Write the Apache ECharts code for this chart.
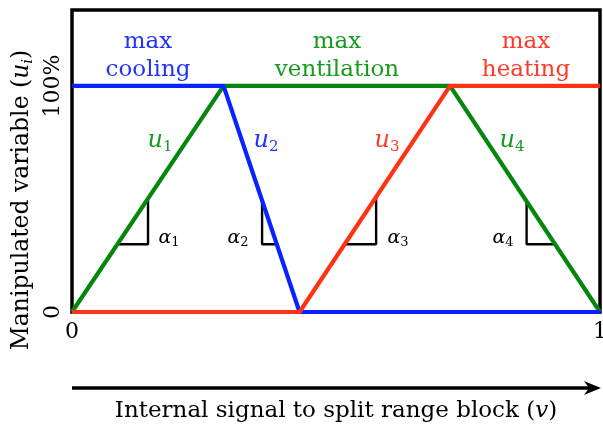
<!DOCTYPE html>
<html>
<head>
<meta charset="utf-8">
<script src="https://cdn.jsdelivr.net/npm/echarts@6/dist/echarts.min.js"></script>
<style>
  html, body { margin: 0; padding: 0; background: #fff; }
  #chart { width: 603px; height: 426px; }
</style>
</head>
<body>
<div id="chart"></div>
<script>
// Split-range control: internal signal v mapped onto three actuators.
const signal      = [0, 0.287, 0.431, 0.716, 1];
const ventilation = [0, 1, 1, 1, 0];   // u1 rising, u4 falling
const cooling     = [1, 1, 0, 0, 0];   // u2
const heating     = [0, 0, 0, 1, 1];   // u3

// Slope markers: where the vertical leg sits and the level of the base.
const slopeLegX   = [0.144, 0.360, 0.576, 0.861];
const slopeBase   = 0.3;
const slopeCurve  = ['ventilation', 'cooling', 'heating', 'ventilation'];
const slopeSeg    = [0, 1, 2, 3];  // segment of the curve each marker belongs to

const xTickLabels = { 0: '0', 1: '1' };
const yTickLabels = { 0: '0', 1: '100%' };

const curves = { ventilation, cooling, heating };

function pairs(ys) { return signal.map((x, i) => [x, ys[i]]); }

function valueAt(ys, x) {
  for (let i = 0; i < signal.length - 1; i++) {
    const x0 = signal[i], x1 = signal[i + 1];
    if (x >= x0 && x <= x1) {
      const t = (x - x0) / (x1 - x0);
      return ys[i] + t * (ys[i + 1] - ys[i]);
    }
  }
  return ys[ys.length - 1];
}
function signalAt(ys, y, seg) {
  const x0 = signal[seg], x1 = signal[seg + 1];
  const y0 = ys[seg], y1 = ys[seg + 1];
  return x0 + (y - y0) / (y1 - y0) * (x1 - x0);
}

const triangleSeries = slopeLegX.map((lx, k) => {
  const ys = curves[slopeCurve[k]];
  const baseX = signalAt(ys, slopeBase, slopeSeg[k]);
  return {
    type: 'line',
    data: [[baseX, slopeBase], [lx, slopeBase], [lx, valueAt(ys, lx)]],
    symbol: 'none',
    lineStyle: { color: '#000', width: 2.4 },
    z: 1,
    silent: true,
    animation: false
  };
});

const BLUE = '#0a22ff', GREEN = '#04870c', RED = '#ff3216';
const TBLUE = '#2233f5', TGREEN = '#179a1e', TRED = '#ff3a26';
const FONT = 'DejaVu Serif';

const chart = echarts.init(document.getElementById('chart'), null, { renderer: 'canvas' });

function mathText(x, y, sym, sub, color, size, subSize, italic) {
  return {
    type: 'text', x, y, silent: true,
    style: {
      text: '{m|' + sym + '}{s|' + sub + '}',
      align: 'center', verticalAlign: 'middle',
      rich: {
        m: { fontFamily: FONT, fontStyle: italic ? 'italic' : 'normal', fontSize: size, fill: color, lineHeight: size + 4 },
        s: { fontFamily: FONT, fontSize: subSize, fill: color, lineHeight: subSize, verticalAlign: 'bottom' }
      }
    }
  };
}
function plainText(x, y, text, color, size, lh) {
  return {
    type: 'text', x, y, silent: true,
    style: { text, fontFamily: FONT, fontSize: size, fill: color, align: 'center', verticalAlign: 'middle', lineHeight: lh }
  };
}

chart.setOption({
  animation: false,
  backgroundColor: '#fff',
  grid: { left: 72, right: 3, top: 10, bottom: 114, outerBoundsMode: 'none', containLabel: false,
          show: true, borderColor: '#000', borderWidth: 3.5, backgroundColor: 'transparent' },
  xAxis: {
    type: 'value', min: 0, max: 1, interval: 1,
    axisLine: { show: false }, axisTick: { show: false }, splitLine: { show: false },
    axisLabel: { color: '#000', fontFamily: FONT, fontSize: 22, margin: 9, formatter: v => xTickLabels[v] ?? '' }
  },
  yAxis: {
    type: 'value', min: 0, max: 1.336, interval: 1,
    axisLine: { show: false }, axisTick: { show: false }, splitLine: { show: false },
    axisLabel: { color: '#000', fontFamily: FONT, fontSize: 22, margin: 8, rotate: 90, showMaxLabel: false,
                 formatter: v => yTickLabels[v] ?? '' }
  },
  series: [
    ...triangleSeries,
    { type: 'line', name: 'ventilation', data: pairs(ventilation), symbol: 'none', lineStyle: { color: GREEN, width: 4.2 }, z: 3 },
    { type: 'line', name: 'cooling', data: pairs(cooling), symbol: 'none', lineStyle: { color: BLUE, width: 4.2 }, z: 4 },
    { type: 'line', name: 'heating', data: pairs(heating), symbol: 'none', lineStyle: { color: RED, width: 4.2 }, z: 5 }
  ],
  graphic: [
    plainText(148, 56, 'max\ncooling', TBLUE, 23, 28),
    plainText(337, 56, 'max\nventilation', TGREEN, 23, 28),
    plainText(526, 56, 'max\nheating', TRED, 23, 28),
    mathText(160, 141, 'u', '1', TGREEN, 24, 15, true),
    mathText(266, 141, 'u', '2', TBLUE, 24, 15, true),
    mathText(387, 141, 'u', '3', TRED, 24, 15, true),
    mathText(512, 141, 'u', '4', TGREEN, 24, 15, true),
    mathText(169, 238, 'α', '1', '#000', 19, 13, true),
    mathText(238, 238, 'α', '2', '#000', 19, 13, true),
    mathText(398, 238, 'α', '3', '#000', 19, 13, true),
    mathText(503, 238, 'α', '4', '#000', 19, 13, true),
    {
      type: 'text', x: 22, y: 200, rotation: Math.PI / 2, silent: true,
      style: {
        text: '{t|Manipulated variable (}{m|u}{s|i}{t|)}',
        align: 'center', verticalAlign: 'middle',
        rich: {
          t: { fontFamily: FONT, fontSize: 23.5, fill: '#000', lineHeight: 28 },
          m: { fontFamily: FONT, fontStyle: 'italic', fontSize: 23.5, fill: '#000', lineHeight: 28 },
          s: { fontFamily: FONT, fontStyle: 'italic', fontSize: 15, fill: '#000', lineHeight: 15, verticalAlign: 'bottom' }
        }
      }
    },
    { type: 'line', silent: true, shape: { x1: 72, y1: 388, x2: 590, y2: 388 }, style: { stroke: '#000', lineWidth: 3.5 } },
    { type: 'polygon', silent: true, shape: { points: [[601, 388], [584, 381], [589, 388], [584, 395]] }, style: { fill: '#000' } },
    {
      type: 'text', x: 336, y: 411, silent: true,
      style: {
        text: '{t|Internal signal to split range block (}{m|v}{t|)}',
        align: 'center', verticalAlign: 'middle',
        rich: {
          t: { fontFamily: FONT, fontSize: 23, fill: '#000' },
          m: { fontFamily: FONT, fontStyle: 'italic', fontSize: 23, fill: '#000' }
        }
      }
    }
  ]
});
</script>
</body>
</html>
